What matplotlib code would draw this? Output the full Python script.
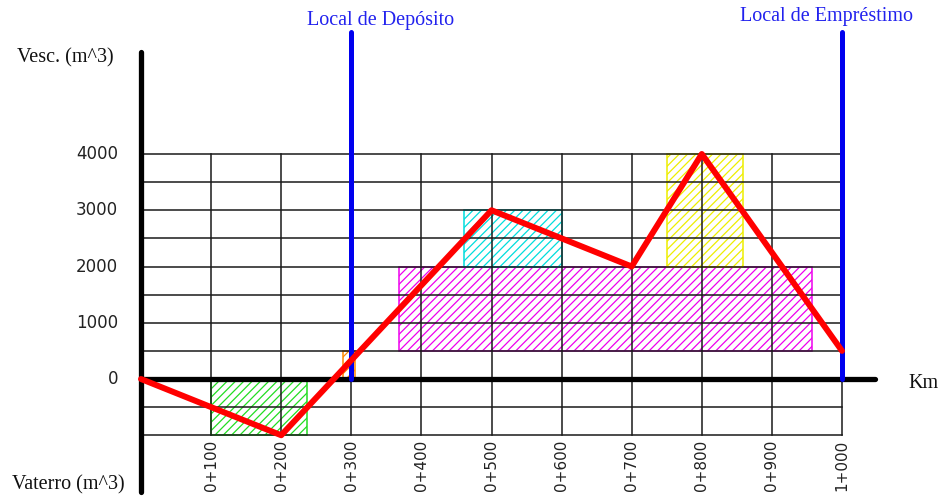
import matplotlib
matplotlib.use("Agg")
import matplotlib.pyplot as plt
from matplotlib.patches import Rectangle

# Mass curve (Brückner diagram): stations in metres, accumulated volume in m^3
stations = [0, 200, 500, 700, 800, 1000]
volumes = [0, -1000, 3000, 2000, 4000, 500]

# Grid
x_grid = [0, 100, 200, 300, 400, 500, 600, 700, 800, 900, 1000]
y_grid = [-1000, -500, 0, 500, 1000, 1500, 2000, 2500, 3000, 3500, 4000]
y_ticks = [0, 1000, 2000, 3000, 4000]
x_tick_labels = ["0+100", "0+200", "0+300", "0+400", "0+500",
                 "0+600", "0+700", "0+800", "0+900", "1+000"]

# Balance (compensation) areas: (x0, x1, y0, y1, colour)
areas_x0 = [100, 288, 368, 461, 750]
areas_x1 = [237, 305, 957, 600, 859]
areas_y0 = [-1000, 0, 500, 2000, 2000]
areas_y1 = [0, 500, 2000, 3000, 4000]
areas_color = ["#22dd22", "#ff8800", "#ee00ee", "#00dddd", "#eeee00"]

# Disposal / borrow sites
sites_x = [300, 1000]
sites_label = ["Local de Depósito", "Local de Empréstimo"]

W, H = 943, 499
fig = plt.figure(figsize=(W / 100, H / 100), dpi=100)
ax = fig.add_axes([0, 0, 1, 1])
# pixel mapping: x_px = 141 + 0.701*x ; y_px = 379 - 0.05625*v
sx, sy = 0.701, 0.05625
ax.set_xlim(-141 / sx, (W - 141) / sx)
ax.set_ylim((379 - H) / sy, 379 / sy)
ax.axis("off")

plt.rcParams["hatch.linewidth"] = 0.9

for xg in x_grid:
    ax.plot([xg, xg], [-1000, 4000], color="#1a1a1a", lw=1.1, zorder=3)
for yg in y_grid:
    ax.plot([0, 1000], [yg, yg], color="#1a1a1a", lw=1.1, zorder=3)

for x0, x1, y0, y1, c in zip(areas_x0, areas_x1, areas_y0, areas_y1, areas_color):
    ax.add_patch(Rectangle((x0, y0), x1 - x0, y1 - y0, facecolor="none",
                           edgecolor=c, hatch="////", lw=1.1, zorder=2))

# axes
ax.plot([0, 0], [(379 - 492) / sy, (379 - 52) / sy], color="black", lw=3.8,
        solid_capstyle="round", zorder=4)
ax.plot([0, (875 - 141) / sx], [0, 0], color="black", lw=3.8,
        solid_capstyle="round", zorder=4)

for xs, lab in zip(sites_x, sites_label):
    ax.plot([xs, xs], [0, (379 - 32) / sy], color="#0000ee", lw=3.6,
            solid_capstyle="round", zorder=5)

ax.plot(stations, volumes, color="#ff0000", lw=4.3, zorder=6,
        solid_joinstyle="round", solid_capstyle="round")

serif = "Liberation Serif"
fs_serif = 14.5
ax.text((381 - 141) / sx, (379 - 20) / sy, sites_label[0], color="#2222ee",
        fontsize=fs_serif, family=serif, ha="center", va="center")
ax.text((826 - 141) / sx, (379 - 17) / sy, sites_label[1], color="#2222ee",
        fontsize=fs_serif, family=serif, ha="center", va="center")

ax.text((17 - 141) / sx, (379 - 58) / sy, "Vesc. (m^3)", fontsize=fs_serif,
        family=serif, ha="left", va="center", color="#111111")
ax.text((12 - 141) / sx, (379 - 485) / sy, "Vaterro (m^3)", fontsize=fs_serif,
        family=serif, ha="left", va="center", color="#111111")
ax.text((908 - 141) / sx, (379 - 383) / sy, "Km", fontsize=fs_serif,
        family=serif, ha="left", va="center", color="#111111")

for yt in y_ticks:
    ax.text((118 - 141) / sx, yt, str(yt), fontsize=12, ha="right",
            va="center", color="#222222")
for xt, lab in zip(x_grid[1:], x_tick_labels):
    ax.text(xt, (379 - 440) / sy, lab, fontsize=11, rotation=90,
            ha="center", va="top", color="#222222")

fig.savefig("out.png", dpi=100)
